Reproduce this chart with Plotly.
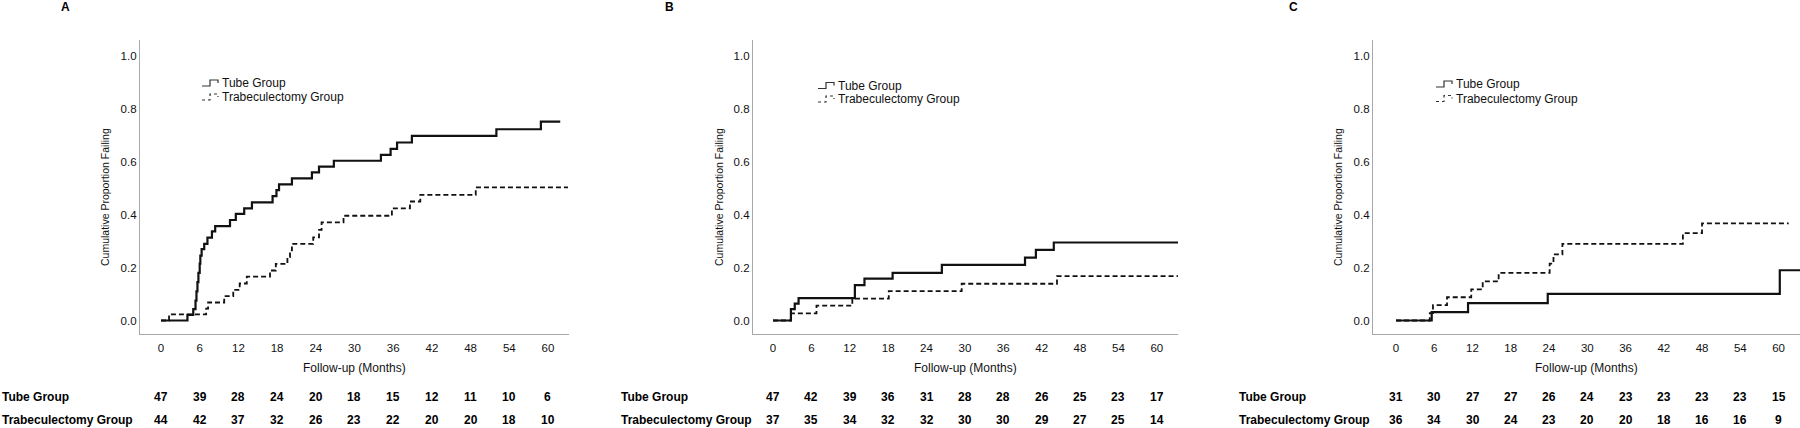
import plotly.graph_objects as go

# ---------------- data ----------------
months_ticks = [0, 6, 12, 18, 24, 30, 36, 42, 48, 54, 60]
y_ticks = [0.0, 0.2, 0.4, 0.6, 0.8, 1.0]
group_names = ["Tube Group", "Trabeculectomy Group"]
panel_letters = ["A", "B", "C"]

# Panel A
a_tube_t = [0, 4.1, 5.0, 5.35, 5.5, 5.65, 5.8, 6.0, 6.1, 6.3, 6.7, 7.2, 7.9, 8.4, 10.7, 11.6, 12.9,
            14.1, 17.3, 17.9, 18.3, 20.3, 23.4, 24.5, 26.8, 34.1, 35.6, 36.6, 38.9, 52.0, 58.9, 61.9]
a_tube_v = [0, 0.021, 0.043, 0.075, 0.11, 0.145, 0.18, 0.215, 0.245, 0.27, 0.29, 0.313, 0.337, 0.357,
            0.38, 0.403, 0.424, 0.447, 0.47, 0.493, 0.515, 0.537, 0.56, 0.582, 0.604, 0.626, 0.649,
            0.673, 0.698, 0.723, 0.752, 0.752]
a_trab_t = [0, 1.25, 7.0, 7.3, 9.8, 11.2, 12.2, 13.3, 16.9, 17.8, 19.6, 20.0, 20.3, 23.6, 24.5, 24.9,
            28.3, 35.8, 38.6, 40.2, 48.8, 63.1]
a_trab_v = [0, 0.023, 0.045, 0.068, 0.092, 0.116, 0.14, 0.166, 0.189, 0.214, 0.24, 0.265, 0.29,
            0.314, 0.343, 0.371, 0.396, 0.424, 0.45, 0.475, 0.503, 0.503]
a_tube_risk = [47, 39, 28, 24, 20, 18, 15, 12, 11, 10, 6]
a_trab_risk = [44, 42, 37, 32, 26, 23, 22, 20, 20, 18, 10]

# Panel B
b_tube_t = [0, 2.8, 3.4, 4.0, 12.8, 14.3, 18.7, 26.4, 39.4, 41.1, 43.9, 63.4]
b_tube_v = [0, 0.043, 0.064, 0.085, 0.134, 0.158, 0.18, 0.21, 0.238, 0.267, 0.295, 0.295]
b_trab_t = [0, 2.8, 6.8, 12.4, 18.1, 29.5, 44.4, 63.4]
b_trab_v = [0, 0.027, 0.056, 0.083, 0.111, 0.139, 0.168, 0.168]
b_tube_risk = [47, 42, 39, 36, 31, 28, 28, 26, 25, 23, 17]
b_trab_risk = [37, 35, 34, 32, 32, 30, 30, 29, 27, 25, 14]

# Panel C
c_tube_t = [0, 5.6, 11.3, 23.8, 60.2, 63.4]
c_tube_v = [0, 0.032, 0.066, 0.101, 0.19, 0.19]
c_trab_t = [0, 5.3, 5.8, 8.0, 11.8, 13.6, 16.1, 24.1, 24.7, 26.1, 45.0, 48.0, 61.6]
c_trab_v = [0, 0.028, 0.058, 0.088, 0.118, 0.148, 0.18, 0.215, 0.25, 0.29, 0.33, 0.367, 0.367]
c_tube_risk = [31, 30, 27, 27, 26, 24, 23, 23, 23, 23, 15]
c_trab_risk = [36, 34, 30, 24, 23, 20, 20, 18, 16, 16, 9]

# ---------------- layout geometry (pixels) ----------------
W, H = 1800, 428
FONT = "Liberation Sans, Arial, sans-serif"

panels = [
    dict(letter=panel_letters[0], tube=(a_tube_t, a_tube_v), trab=(a_trab_t, a_trab_v),
         risk=(a_tube_risk, a_trab_risk), ax0=140, ax1=569, xr=[-3.256, 63.26],
         letter_x=65, ytitle_x=105, leg_x=202, leg_y=(83, 97), row_x=0),
    dict(letter=panel_letters[1], tube=(b_tube_t, b_tube_v), trab=(b_trab_t, b_trab_v),
         risk=(b_tube_risk, b_trab_risk), ax0=753, ax1=1178, xr=[-3.127, 63.32],
         letter_x=669, ytitle_x=719, leg_x=818, leg_y=(85.5, 99), row_x=619),
    dict(letter=panel_letters[2], tube=(c_tube_t, c_tube_v), trab=(c_trab_t, c_trab_v),
         risk=(c_tube_risk, c_trab_risk), ax0=1373, ax1=1800, xr=[-3.61, 63.37],
         letter_x=1293, ytitle_x=1338, leg_x=1436, leg_y=(84, 98.5), row_x=1237),
]

y_top_px, y_bot_px = 40, 334
y_range = [-0.051, 1.0605]


def px(x):
    return x / W


def py(y):
    return 1 - y / H


fig = go.Figure()
annotations = []
shapes = []
layout_axes = {}

for i, p in enumerate(panels):
    n = "" if i == 0 else str(i + 1)
    xa, ya = "x" + n, "y" + n
    # curves
    fig.add_trace(go.Scatter(x=p["tube"][0], y=p["tube"][1], mode="lines", line_shape="hv",
                             line=dict(color="#111111", width=2.2), name=group_names[0],
                             xaxis=xa, yaxis=ya, showlegend=False, hoverinfo="skip"))
    fig.add_trace(go.Scatter(x=p["trab"][0], y=p["trab"][1], mode="lines", line_shape="hv",
                             line=dict(color="#111111", width=1.8, dash="5px,3px"),
                             name=group_names[1], xaxis=xa, yaxis=ya, showlegend=False,
                             hoverinfo="skip"))

    layout_axes["xaxis" + n] = dict(
        domain=[px(p["ax0"]), min(1.0, px(p["ax1"]))], range=p["xr"], anchor=ya,
        tickvals=months_ticks, ticks="", showgrid=False, zeroline=False,
        showline=True, linecolor="#a8a8a8", linewidth=1.3,
        tickfont=dict(family=FONT, size=11.5, color="#111111"), ticklabelstandoff=3,
        fixedrange=True)
    layout_axes["yaxis" + n] = dict(
        domain=[py(y_bot_px), py(y_top_px)], range=y_range, anchor=xa,
        tickvals=y_ticks, tickformat=".1f", ticks="", showgrid=False, zeroline=False,
        showline=True, linecolor="#a8a8a8", linewidth=1.3,
        tickfont=dict(family=FONT, size=11.5, color="#111111"), fixedrange=True)

    # panel letter
    annotations.append(dict(text="<b>%s</b>" % p["letter"], x=px(p["letter_x"]), y=py(7),
                            xref="paper", yref="paper", showarrow=False, xanchor="center",
                            yanchor="middle", font=dict(family=FONT, size=12, color="#000")))
    # y title
    annotations.append(dict(text="Cumulative Proportion Failing", x=px(p["ytitle_x"]), y=py(197),
                            xref="paper", yref="paper", showarrow=False, textangle=-90,
                            xanchor="center", yanchor="middle",
                            font=dict(family=FONT, size=10.5, color="#111111")))
    # x title
    annotations.append(dict(text="Follow-up (Months)", x=(px(p["ax0"]) + px(p["ax1"])) / 2,
                            y=py(368), xref="paper", yref="paper", showarrow=False,
                            xanchor="center", yanchor="middle",
                            font=dict(family=FONT, size=12, color="#111111")))
    # legend text + glyphs
    for k, gname in enumerate(group_names):
        yc = p["leg_y"][k]
        annotations.append(dict(text=gname, x=px(p["leg_x"] + 18), y=py(yc), xref="paper",
                                yref="paper", showarrow=False, xanchor="left", yanchor="middle",
                                font=dict(family=FONT, size=12, color="#111111")))
        x0 = p["leg_x"]
        path = "M %f,%f L %f,%f L %f,%f L %f,%f L %f,%f" % (
            px(x0), py(yc + 3), px(x0 + 8), py(yc + 3), px(x0 + 8), py(yc - 3),
            px(x0 + 16), py(yc - 3), px(x0 + 16), py(yc))
        shapes.append(dict(type="path", path=path, xref="paper", yref="paper",
                           line=dict(color="#333333", width=1.2,
                                     dash="solid" if k == 0 else "3px,3px")))
    # at-risk table
    for k, gname in enumerate(group_names):
        ry = py(397 if k == 0 else 420)
        annotations.append(dict(text="<b>%s</b>" % gname, x=px(p["row_x"]), y=ry, xref="paper",
                                yref="paper", showarrow=False, xanchor="left", yanchor="middle",
                                font=dict(family=FONT, size=12, color="#000")))
        for t, v in zip(months_ticks, p["risk"][k]):
            annotations.append(dict(text="<b>%d</b>" % v, x=t, y=ry, xref=xa, yref="paper",
                                    showarrow=False, xanchor="center", yanchor="middle",
                                    font=dict(family=FONT, size=12, color="#000")))

fig.update_layout(
    width=W, height=H, margin=dict(l=0, r=0, t=0, b=0),
    paper_bgcolor="white", plot_bgcolor="white",
    showlegend=False, annotations=annotations, shapes=shapes,
    **layout_axes,
)

fig.write_html(
    "out.html",
    config={"displayModeBar": False},
    post_script="document.body.style.margin='0';document.body.style.overflow='hidden';",
)
